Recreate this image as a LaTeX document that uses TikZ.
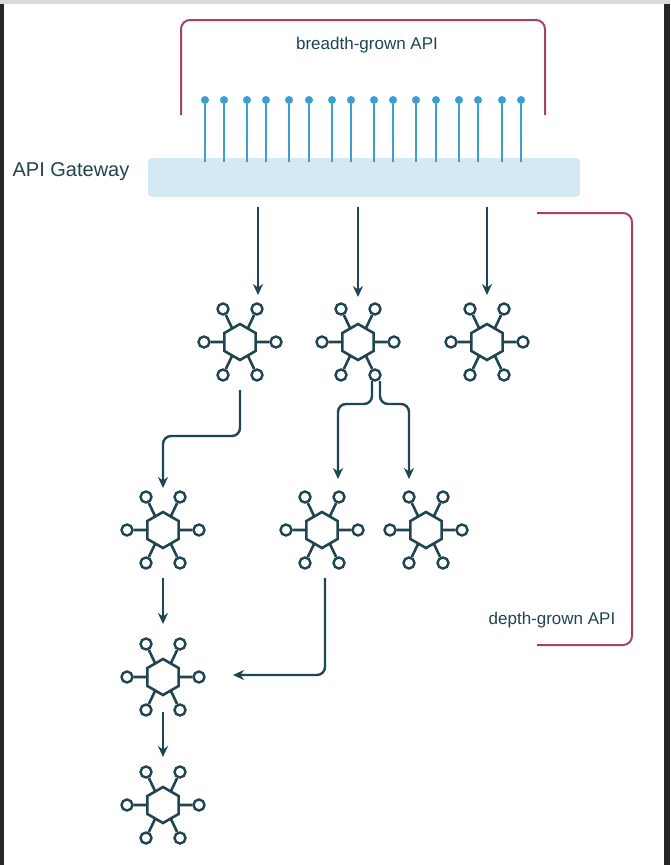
\documentclass[tikz,border=0pt]{standalone}
\usepackage{fontspec}
\setmainfont{Liberation Sans}
\usetikzlibrary{arrows.meta,shapes.geometric}
\definecolor{dk}{HTML}{1F4552}
\definecolor{mag}{HTML}{A3416F}
\definecolor{pinc}{HTML}{3B9FD0}
\definecolor{gw}{HTML}{D5E9F4}
\newcommand{\myicon}[3]{%
  \begin{scope}[shift={(#2,-#3)}]
    \node[hex] (#1) at (0,0) {};
    \foreach \dx/\dy/\n in {36/0/r,-36/0/l,17/33/tr,-17/33/tl,17/-33/br,-17/-33/bl}{
      \node[sat] (#1-\n) at (\dx,\dy) {};
    }
    \draw[ic] (0:15)--(#1-r) (180:15)--(#1-l) (60:15)--(#1-tr) (120:15)--(#1-tl) (300:15)--(#1-br) (240:15)--(#1-bl);
  \end{scope}}
\tikzset{
  x=1pt,y=1pt,
  ic/.style={dk,line width=2.6pt},
  hex/.style={draw=dk,line width=2.6pt,regular polygon,regular polygon sides=6,shape border rotate=30,minimum size=36pt,inner sep=0pt},
  sat/.style={circle,draw=dk,line width=2.4pt,minimum size=11pt,inner sep=0pt,fill=white},
  ar/.style={dk,line width=2.4pt,-{Stealth[length=11pt,width=10pt]},rounded corners=8pt},
  br/.style={mag,line width=2pt,rounded corners=9pt},
  lbl/.style={text=dk,font=\fontsize{17}{19}\selectfont}
}
\begin{document}
\begin{tikzpicture}
\useasboundingbox (0,0) rectangle (670,-865);
\fill[white] (0,0) rectangle (670,-865);
\fill[black!85] (0,0) rectangle (4,-865);
\fill[black!85] (664,0) rectangle (670,-865);
\fill[black!15] (0,0) rectangle (670,-4);
% gateway
\node[fill=gw,rounded corners=4pt,minimum width=432pt,minimum height=39pt,inner sep=0pt] (gw) at (364,-177.5) {};
\node[text=dk,font=\fontsize{20}{22}\selectfont,anchor=center] (gwl) at (71,-172) {API Gateway};
\foreach \x [count=\i] in {205,224,247,266,289,309,332,351,374,393,416,436,459,478,502,521}{
  \coordinate (p\i) at (\x,-162);
  \node[circle,fill=pinc,minimum size=8pt,inner sep=0pt] (d\i) at (\x,-100) {};
  \draw[draw=pinc,line width=2.4pt] (d\i) -- (p\i);
}
% brackets
\coordinate (b1) at (181,-115); \coordinate (b2) at (545,-115);
\draw[br] (b1) |- (363,-20) -| (b2);
\node[lbl] (bl) at (367,-45) {breadth-grown API};
\coordinate (c1) at (537,-213); \coordinate (c2) at (537,-645);
\draw[br] (c1) -| (632,-430) |- (c2);
\node[lbl] (dl) at (552,-620) {depth-grown API};
% icons
\myicon{A}{240}{342}
\myicon{B}{358}{342}
\myicon{C}{487}{342}
\myicon{D}{163}{530}
\myicon{E}{322}{530}
\myicon{F}{426}{530}
\myicon{G}{163}{677}
\myicon{H}{163}{805}
% arrows
\coordinate (g1) at (258,-207); \coordinate (g2) at (358,-207); \coordinate (g3) at (487,-207);
\draw[ar] (g1) -- (258,-295);
\draw[ar] (g2) -- (358,-297);
\draw[ar] (g3) -- (487,-295);
\draw[ar] (240,-390) -- (240,-436) -- (163,-436) -- (163,-488);
\draw[ar] (372,-381) -- (372,-404) -- (338,-404) -- (338,-479);
\draw[ar] (380,-381) -- (380,-404) -- (409,-404) -- (409,-479);
\draw[ar] (163,-578) -- (163,-624);
\draw[ar] (325,-578) -- (325,-675) -- (233,-675);
\draw[ar] (163,-712) -- (163,-757);
\end{tikzpicture}
\end{document}
